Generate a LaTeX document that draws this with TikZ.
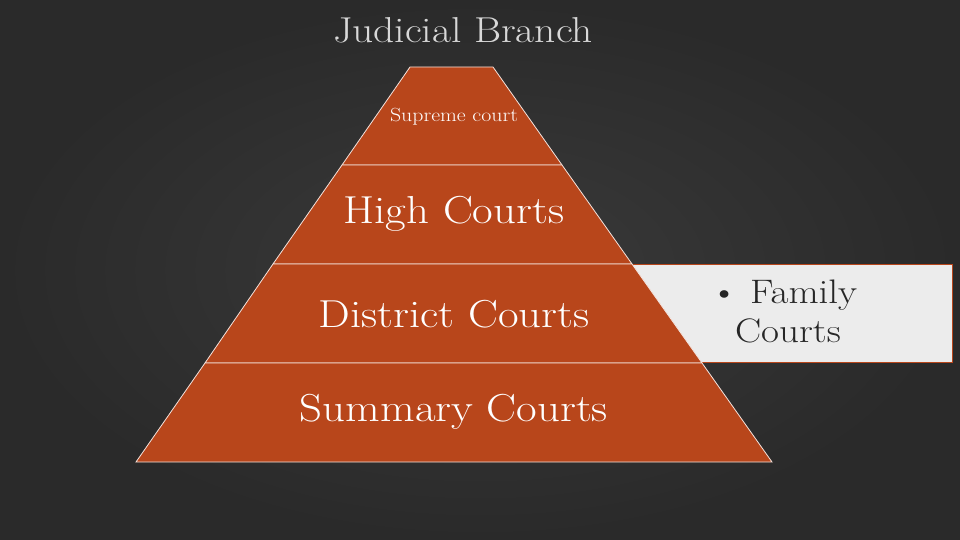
\documentclass[tikz,border=0pt]{standalone}
\definecolor{bg}{HTML}{2A2A2A}
\definecolor{bgin}{HTML}{3A3A3A}
\definecolor{org}{HTML}{B8461B}
\definecolor{boxg}{HTML}{ECECEC}
\definecolor{ttl}{HTML}{D8D8D8}
\begin{document}
\begin{tikzpicture}[x=1pt,y=-1pt,
  lvl/.style={fill=org,draw=white!85!org,line width=0.8pt},
  wide/.style={xscale=1.15,transform shape},
  lbl/.style={wide,text=white,font=\fontsize{39}{42}\selectfont}]
\useasboundingbox (0,0) rectangle (960,540);
\shade[inner color=bgin,outer color=bg] (0,0) rectangle (960,540);
\node[wide,text=ttl,font=\fontsize{36}{40}\selectfont] (title) at (463,30) {Judicial Branch};
\node[draw=org,fill=boxg,minimum width=340pt,minimum height=98pt,anchor=north west,inner sep=0pt] (fam) at (612,264) {};
\node[wide,font=\fontsize{34}{36}\selectfont,anchor=west,text=black!85] (fl1) at (706,295) {• Family};
\node[wide,font=\fontsize{34}{36}\selectfont,anchor=west,text=black!85] (fl2) at (731,331) {Courts};
\draw[lvl] (410,67) -- (493,67) -- (562,165) -- (342,165) -- cycle;
\draw[lvl] (342,165) -- (562,165) -- (632,264) -- (273,264) -- cycle;
\draw[lvl] (273,264) -- (632,264) -- (702,363) -- (205,363) -- cycle;
\draw[lvl] (205,363) -- (702,363) -- (772,462) -- (136,462) -- cycle;
\node[wide,text=white,font=\fontsize{19}{22}\selectfont] (sup) at (454,117) {Supreme court};
\node[lbl] (hc) at (454,214) {High Courts};
\node[lbl] (dc) at (454,314) {District Courts};
\node[lbl] (sc) at (454,412) {Summary Courts};
\end{tikzpicture}
\end{document}
